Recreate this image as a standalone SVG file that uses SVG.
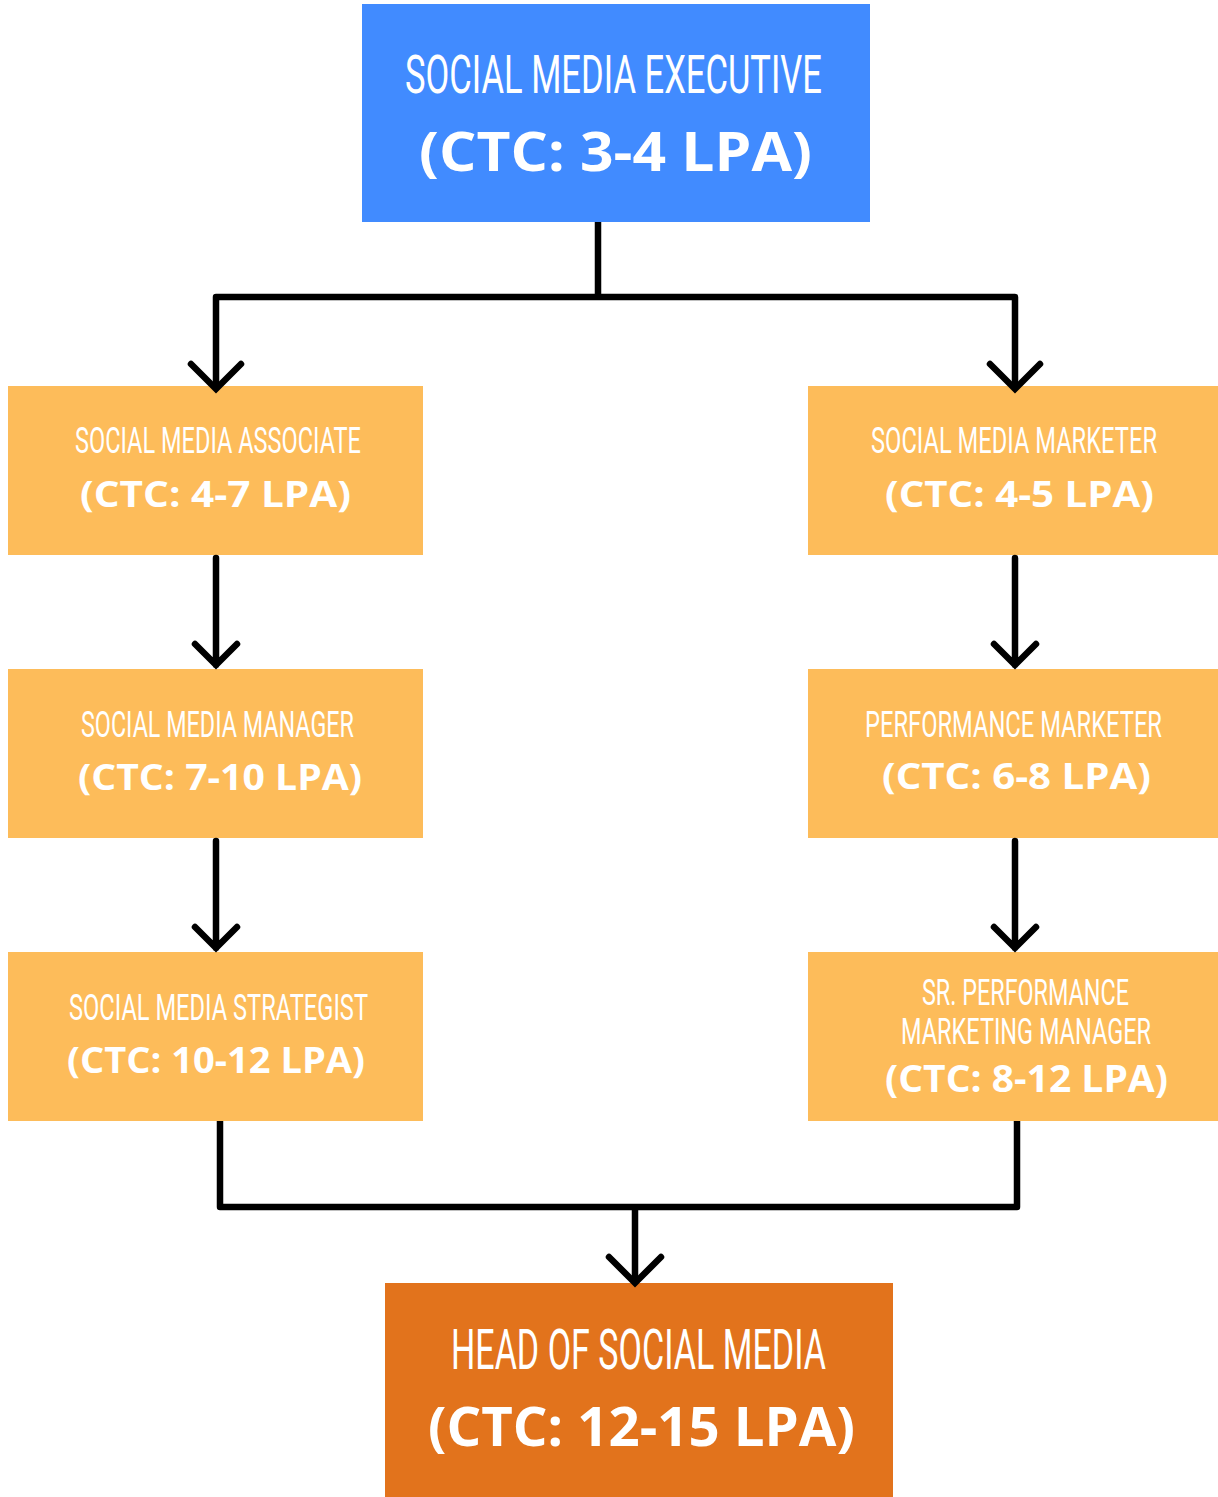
<svg xmlns="http://www.w3.org/2000/svg" width="1218" height="1497" viewBox="0 0 1218 1497">
<style>
.blue{fill:#418BFF}
.org{fill:#FDBC5A}
.dark{fill:#E2731C}
.t{font-family:Roboto,"Liberation Sans",sans-serif;font-weight:400;fill:#fff}
.c{font-family:"Open Sans","Liberation Sans",sans-serif;font-weight:700;fill:#fff}
.ln{fill:none;stroke:#000;stroke-width:6.5;stroke-linejoin:round}
.ar{fill:none;stroke:#000;stroke-width:6.5;stroke-linecap:round;stroke-linejoin:miter}
</style>
<rect width="1218" height="1497" fill="#fff"/>
<g id="executive">
<rect class="blue" x="362" y="4" width="508" height="218"/>
<text class="t" transform="translate(405,93) scale(0.62,1)" font-size="53.5" textLength="672.6" lengthAdjust="spacingAndGlyphs">SOCIAL MEDIA EXECUTIVE</text>
<text class="c" x="419" y="171" font-size="53" textLength="393" lengthAdjust="spacingAndGlyphs">(CTC: 3-4 LPA)</text>
</g>
<g id="associate">
<rect class="org" x="8" y="386" width="415" height="169"/>
<text class="t" transform="translate(75,453) scale(0.62,1)" font-size="36.5" textLength="461.3" lengthAdjust="spacingAndGlyphs">SOCIAL MEDIA ASSOCIATE</text>
<text class="c" x="80" y="507" font-size="36" textLength="271" lengthAdjust="spacingAndGlyphs">(CTC: 4-7 LPA)</text>
</g>
<g id="manager">
<rect class="org" x="8" y="669" width="415" height="169"/>
<text class="t" transform="translate(81,736.5) scale(0.62,1)" font-size="36.5" textLength="440.3" lengthAdjust="spacingAndGlyphs">SOCIAL MEDIA MANAGER</text>
<text class="c" x="78" y="790" font-size="36" textLength="284" lengthAdjust="spacingAndGlyphs">(CTC: 7-10 LPA)</text>
</g>
<g id="strategist">
<rect class="org" x="8" y="952" width="415" height="169"/>
<text class="t" transform="translate(69,1019.5) scale(0.62,1)" font-size="36.5" textLength="482.3" lengthAdjust="spacingAndGlyphs">SOCIAL MEDIA STRATEGIST</text>
<text class="c" x="67" y="1072.5" font-size="36" textLength="298" lengthAdjust="spacingAndGlyphs">(CTC: 10-12 LPA)</text>
</g>
<g id="marketer">
<rect class="org" x="808" y="386" width="410" height="169"/>
<text class="t" transform="translate(871,453) scale(0.62,1)" font-size="36.5" textLength="461.3" lengthAdjust="spacingAndGlyphs">SOCIAL MEDIA MARKETER</text>
<text class="c" x="885" y="507" font-size="36" textLength="269" lengthAdjust="spacingAndGlyphs">(CTC: 4-5 LPA)</text>
</g>
<g id="performance">
<rect class="org" x="808" y="669" width="410" height="169"/>
<text class="t" transform="translate(865,736.5) scale(0.62,1)" font-size="36.5" textLength="479" lengthAdjust="spacingAndGlyphs">PERFORMANCE MARKETER</text>
<text class="c" x="882" y="789" font-size="36" textLength="269" lengthAdjust="spacingAndGlyphs">(CTC: 6-8 LPA)</text>
</g>
<g id="sr-performance">
<rect class="org" x="808" y="952" width="410" height="169"/>
<text class="t" transform="translate(922,1005) scale(0.62,1)" font-size="37.5" textLength="333.9" lengthAdjust="spacingAndGlyphs">SR. PERFORMANCE</text>
<text class="t" transform="translate(901,1044) scale(0.62,1)" font-size="37.5" textLength="403.2" lengthAdjust="spacingAndGlyphs">MARKETING MANAGER</text>
<text class="c" x="885" y="1091.5" font-size="37" textLength="283" lengthAdjust="spacingAndGlyphs">(CTC: 8-12 LPA)</text>
</g>
<g id="head">
<rect class="dark" x="385" y="1283" width="508" height="214"/>
<text class="t" transform="translate(451,1369) scale(0.62,1)" font-size="55" textLength="604.8" lengthAdjust="spacingAndGlyphs">HEAD OF SOCIAL MEDIA</text>
<text class="c" x="428" y="1446" font-size="53" textLength="427" lengthAdjust="spacingAndGlyphs">(CTC: 12-15 LPA)</text>
</g>
<g id="connectors">
<path class="ln" d="M598,222 V297 M216,388 V297 H1015 V388"/>
<path class="ar" d="M191,364 L216,389 L241,364"/>
<path class="ar" d="M990,364 L1015,389 L1040,364"/>
<path class="ar" d="M216,558 V665 M195,644 L216,665 L237,644"/>
<path class="ar" d="M216,841 V948 M195,927 L216,948 L237,927"/>
<path class="ar" d="M1015,558 V665 M994,644 L1015,665 L1036,644"/>
<path class="ar" d="M1015,841 V948 M994,927 L1015,948 L1036,927"/>
<path class="ln" d="M220,1121 V1207 H1017 V1121 M635,1207 V1283"/>
<path class="ar" d="M609,1257 L635,1283 L661,1257"/>
</g>
</svg>
